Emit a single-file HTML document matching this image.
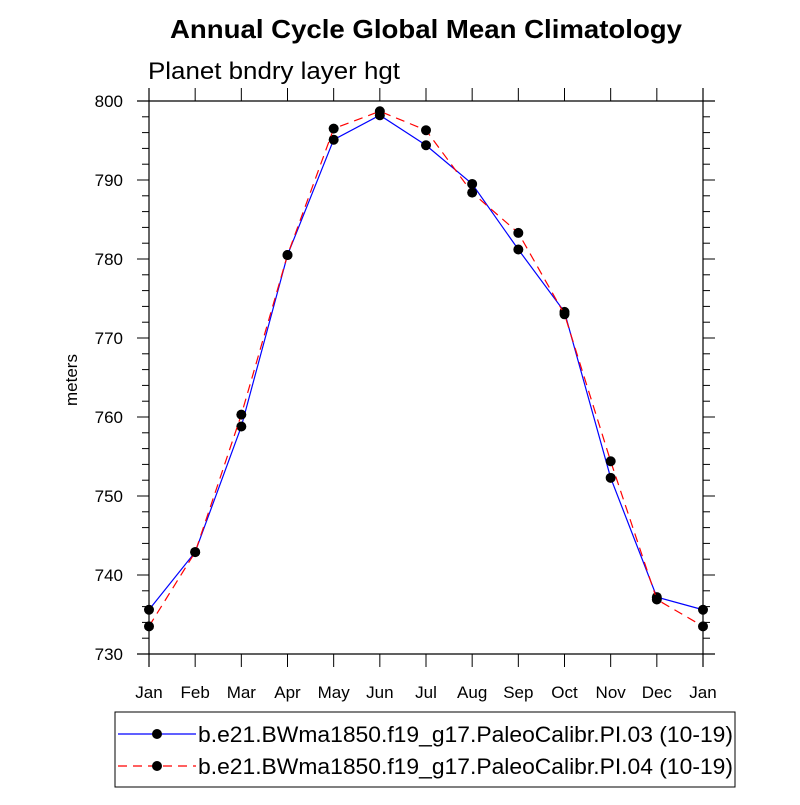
<!DOCTYPE html>
<html><head><meta charset="utf-8"><style>
body{margin:0;background:#fff;}
svg text{font-family:"Liberation Sans",sans-serif;}
</style></head><body>
<svg id="chart" width="800" height="800" xmlns="http://www.w3.org/2000/svg">
<text x="170" y="38" font-size="26" font-weight="bold" textLength="512" lengthAdjust="spacingAndGlyphs">Annual Cycle Global Mean Climatology</text>
<text x="148" y="79" font-size="24" textLength="252" lengthAdjust="spacingAndGlyphs">Planet bndry layer hgt</text>
<text x="77" y="380" font-size="17" text-anchor="middle" transform="rotate(-90 77 380)">meters</text>
<g id="axes"></g>
<g id="series"></g>
<g>
<rect x="115" y="712" width="620" height="75" fill="none" stroke="#000" stroke-width="1"/>
<g>
<line x1="118" y1="734" x2="196" y2="734" stroke="#00f" stroke-width="1.2"/>
<circle cx="157" cy="734" r="5" fill="#000"/>
<text x="198" y="742" font-size="22" textLength="535" lengthAdjust="spacingAndGlyphs">b.e21.BWma1850.f19_g17.PaleoCalibr.PI.03 (10-19)</text>
</g>
<g>
<line x1="118" y1="766" x2="196" y2="766" stroke="#f00" stroke-width="1.2" stroke-dasharray="9,6"/>
<circle cx="157" cy="766" r="5" fill="#000"/>
<text x="198" y="774" font-size="22" textLength="535" lengthAdjust="spacingAndGlyphs">b.e21.BWma1850.f19_g17.PaleoCalibr.PI.04 (10-19)</text>
</g>
</g>
</svg>
<script>
const months=["Jan","Feb","Mar","Apr","May","Jun","Jul","Aug","Sep","Oct","Nov","Dec","Jan"];
const seriesPI03=[735.6,742.9,758.8,780.5,795.1,798.2,794.4,789.5,781.2,773.3,752.3,737.2,735.6];
const seriesPI04=[733.5,742.9,760.3,780.5,796.5,798.7,796.3,788.4,783.3,773.0,754.4,736.9,733.5];
const yTicks=[730,740,750,760,770,780,790,800];
const NS="http://www.w3.org/2000/svg";
const L=149,R=703,T=101,B=654,yMin=730,yMax=800;
function xs(i){return L+(R-L)*i/(months.length-1);}
function ys(v){return B-(B-T)*(v-yMin)/(yMax-yMin);}
function mk(tag,attrs,parent){const e=document.createElementNS(NS,tag);for(const k in attrs)e.setAttribute(k,attrs[k]);parent.appendChild(e);return e;}
const ax=document.getElementById('axes');
mk('line',{x1:137,y1:T,x2:715,y2:T,stroke:'#000','stroke-width':1.2},ax);
mk('line',{x1:137,y1:B,x2:715,y2:B,stroke:'#000','stroke-width':1.2},ax);
mk('line',{x1:L,y1:88,x2:L,y2:667,stroke:'#000','stroke-width':1.2},ax);
mk('line',{x1:R,y1:88,x2:R,y2:667,stroke:'#000','stroke-width':1.2},ax);
months.forEach((m,i)=>{
  const x=xs(i);
  mk('line',{x1:x,y1:88,x2:x,y2:T,stroke:'#000'},ax);
  mk('line',{x1:x,y1:B,x2:x,y2:667,stroke:'#000'},ax);
  const t=mk('text',{x:x,y:698,'font-size':17,'text-anchor':'middle'},ax);
  
  
  t.textContent=m;
});
for(let v=yMin;v<=yMax;v+=2){
  const y=ys(v),major=(v%10===0);
  mk('line',{x1:major?137:142,y1:y,x2:L,y2:y,stroke:'#000'},ax);
  mk('line',{x1:R,y1:y,x2:major?715:710,y2:y,stroke:'#000'},ax);
}
yTicks.forEach(v=>{
  const t=mk('text',{x:123,y:ys(v)+6,'font-size':17,'text-anchor':'end'},ax);
  
  
  t.textContent=v;
});
const sg=document.getElementById('series');
function draw(data,color,dash,name){
  const g=mk('g',{},sg);
  
  
  const pl=mk('polyline',{points:data.map((v,i)=>xs(i)+','+ys(v)).join(' '),fill:'none',stroke:color,'stroke-width':1.2},g);
  if(dash)pl.setAttribute('stroke-dasharray',dash);
  
  
  data.forEach((v,i)=>{
    const c=mk('circle',{cx:xs(i),cy:ys(v),r:5,fill:'#000'},g);
    
    
  });
}
draw(seriesPI03,'#00f',null,'series-pi03');
draw(seriesPI04,'#f00','9,6','series-pi04');
</script>
</body></html>
